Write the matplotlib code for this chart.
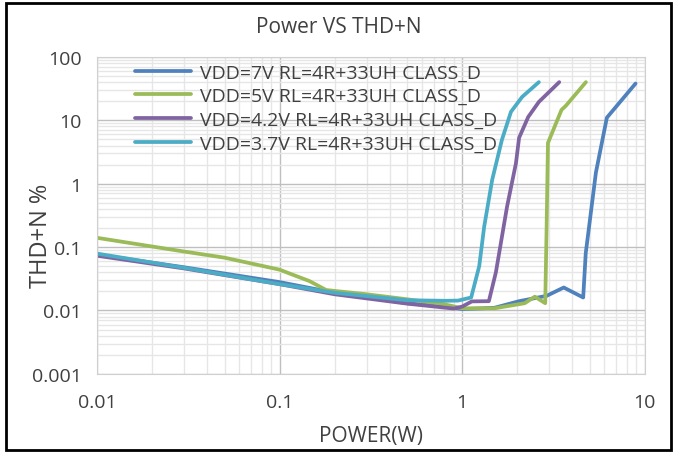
import matplotlib.pyplot as plt
from matplotlib.patches import Rectangle
from matplotlib.ticker import LogLocator, FixedLocator, FixedFormatter

# VDD=7V
p7 = [0.01, 0.03, 0.1, 0.2, 0.5, 0.8, 1.0, 1.5, 2.05, 2.9, 3.6, 4.6, 4.75, 5.4, 6.2, 8.9]
t7 = [0.076, 0.048, 0.028, 0.019, 0.013, 0.0115, 0.0105, 0.011, 0.014, 0.017, 0.023, 0.016, 0.08, 1.5, 11, 38]
# VDD=5V
p5 = [0.01, 0.03, 0.05, 0.1, 0.146, 0.18, 0.3, 0.5, 0.8, 1.0, 1.5, 2.2, 2.5, 2.85, 2.9, 2.95, 3.5, 3.7, 4.76]
t5 = [0.14, 0.085, 0.068, 0.044, 0.029, 0.021, 0.018, 0.015, 0.0125, 0.0108, 0.0108, 0.013, 0.0165, 0.013, 0.2, 4.4, 14.6, 17, 40]
# VDD=4.2V
p42 = [0.01, 0.03, 0.1, 0.2, 0.5, 0.9, 1.0, 1.13, 1.4, 1.53, 1.76, 1.97, 2.05, 2.3, 2.63, 3.4]
t42 = [0.073, 0.046, 0.026, 0.018, 0.0128, 0.0107, 0.0115, 0.0139, 0.014, 0.04, 0.43, 2.1, 5.3, 11.3, 19.5, 40]
# VDD=3.7V
p37 = [0.01, 0.03, 0.1, 0.2, 0.5, 0.8, 0.95, 1.12, 1.24, 1.32, 1.46, 1.65, 1.85, 2.13, 2.63]
t37 = [0.079, 0.047, 0.026, 0.019, 0.0145, 0.0142, 0.0143, 0.016, 0.05, 0.21, 1.15, 4.9, 13.6, 23.4, 40]

labels = ["VDD=7V RL=4R+33UH CLASS_D", "VDD=5V RL=4R+33UH CLASS_D",
          "VDD=4.2V RL=4R+33UH CLASS_D", "VDD=3.7V RL=4R+33UH CLASS_D"]
colors = ["#4f81bd", "#9bbb59", "#8064a2", "#4bacc6"]
yticks = [0.001, 0.01, 0.1, 1, 10, 100]
ytick_labels = ["0.001", "0.01", "0.1", "1", "10", "100"]
xticks = [0.01, 0.1, 1, 10]
xtick_labels = ["0.01", "0.1", "1", "10"]

plt.rcParams['font.family'] = ['Open Sans', 'DejaVu Sans']
txt = "#404040"

fig = plt.figure(figsize=(6.78, 4.56), dpi=100)
ax = fig.add_axes([0.143, 0.178, 0.808, 0.695])

for xs, ys, lab, c in zip([p7, p5, p42, p37], [t7, t5, t42, t37], labels, colors):
    ax.plot(xs, ys, color=c, lw=2.7, label=lab, solid_capstyle='round')

ax.set_xscale('log')
ax.set_yscale('log')
ax.set_xlim(0.01, 10)
ax.set_ylim(0.001, 100)
ax.xaxis.set_major_locator(FixedLocator(xticks))
ax.xaxis.set_major_formatter(FixedFormatter(xtick_labels))
ax.yaxis.set_major_locator(FixedLocator(yticks))
ax.yaxis.set_major_formatter(FixedFormatter(ytick_labels))
ax.xaxis.set_minor_locator(LogLocator(base=10, subs=range(2, 10)))
ax.yaxis.set_minor_locator(LogLocator(base=10, subs=range(2, 10)))
ax.grid(which='minor', color='#e6e6e6', lw=1.0)
ax.grid(which='major', color='#bfbfbf', lw=1.0)
ax.set_axisbelow(True)
ax.tick_params(which='both', length=0, labelsize=14, colors=txt)
ax.tick_params(axis='x', pad=14)
ax.tick_params(axis='y', pad=11)
for s in ax.spines.values():
    s.set_color('#d0d0d0')

ax.set_xlabel("POWER(W)", fontsize=15, color=txt)
ax.xaxis.set_label_coords(0.5, -0.163)
ax.set_ylabel("THD+N %", fontsize=17, color=txt)
ax.yaxis.set_label_coords(-0.08, 0.44)
fig.text(0.5, 0.94, "Power VS THD+N", ha='center', va='center', fontsize=15, color=txt)

leg = ax.legend(loc='upper left', bbox_to_anchor=(0.037, 1.035), frameon=False,
                fontsize=14, labelspacing=0.3, handlelength=2.9, handletextpad=0.45)
for t in leg.get_texts():
    t.set_color(txt)

fig.patches.append(Rectangle((0.009, 0.01), 0.980, 0.982, transform=fig.transFigure,
                             fill=False, edgecolor='black', lw=2))

fig.savefig("out.png", dpi=100)
